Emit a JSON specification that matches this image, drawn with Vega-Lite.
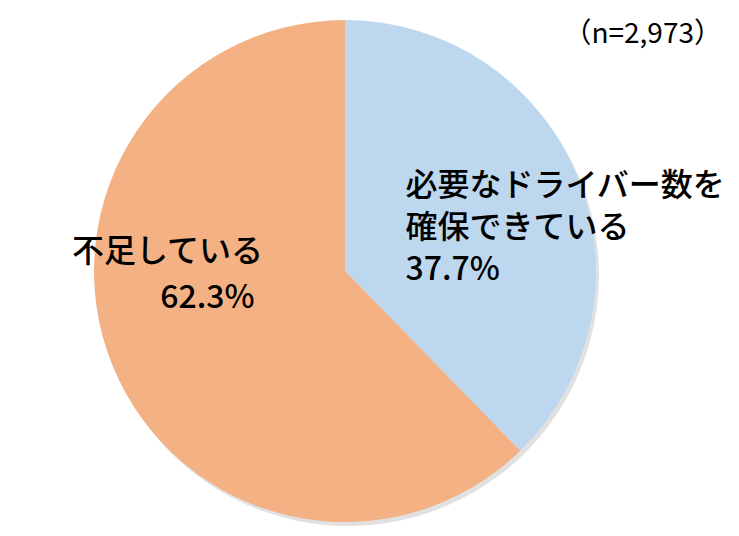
{
  "$schema": "https://vega.github.io/schema/vega-lite/v6.json",
  "width": 690,
  "height": 530,
  "autosize": {"type": "none"},
  "padding": {"left": 0, "top": 6, "right": 49, "bottom": 0},
  "background": "white",
  "config": {"view": {"stroke": null}, "font": "Noto Sans CJK JP"},
  "title": {
    "text": "（n=2,973）",
    "anchor": "end",
    "frame": "group",
    "orient": "top",
    "fontSize": 28,
    "fontWeight": "normal",
    "font": "Noto Sans CJK JP",
    "color": "#000000",
    "baseline": "middle",
    "offset": -27,
    "dx": 32,
    "dy": 30
  },
  "data": {
    "values": [
      {"category": "必要なドライバー数を確保できている", "value": 37.7, "blueLabel": ["必要なドライバー数を", "確保できている", "37.7%"], "nameLabel": "", "pctLabel": ""},
      {"category": "不足している", "value": 62.3, "blueLabel": "", "nameLabel": "不足している", "pctLabel": "62.3%"}
    ]
  },
  "encoding": {
    "theta": {"field": "value", "type": "quantitative", "stack": true},
    "order": {"field": "value", "type": "quantitative", "sort": "ascending"}
  },
  "layer": [
    {
      "mark": {"type": "arc", "outerRadius": 251, "stroke": null, "color": "#d9d9d9", "xOffset": 3, "yOffset": 4, "opacity": 0.8},
      "encoding": {}
    },
    {
      "mark": {"type": "arc", "outerRadius": 251, "stroke": null},
      "encoding": {
        "color": {
          "field": "category",
          "type": "nominal",
          "scale": {"domain": ["必要なドライバー数を確保できている", "不足している"], "range": ["#BDD7EE", "#F4B183"]},
          "legend": null
        }
      }
    },
    {
      "mark": {"type": "text", "radius": 130, "align": "left", "baseline": "middle", "dx": -60, "dy": -36, "fontSize": 32, "fontWeight": 500, "lineHeight": 42, "color": "#000000"},
      "encoding": {"text": {"field": "blueLabel"}}
    },
    {
      "mark": {"type": "text", "radius": 130, "align": "center", "baseline": "middle", "dx": -57, "dy": -68, "fontSize": 32, "fontWeight": 500, "color": "#000000"},
      "encoding": {"text": {"field": "nameLabel"}}
    },
    {
      "mark": {"type": "text", "radius": 130, "align": "right", "baseline": "middle", "dx": 30, "dy": -22, "fontSize": 32, "fontWeight": 500, "color": "#000000"},
      "encoding": {"text": {"field": "pctLabel"}}
    }
  ]
}
